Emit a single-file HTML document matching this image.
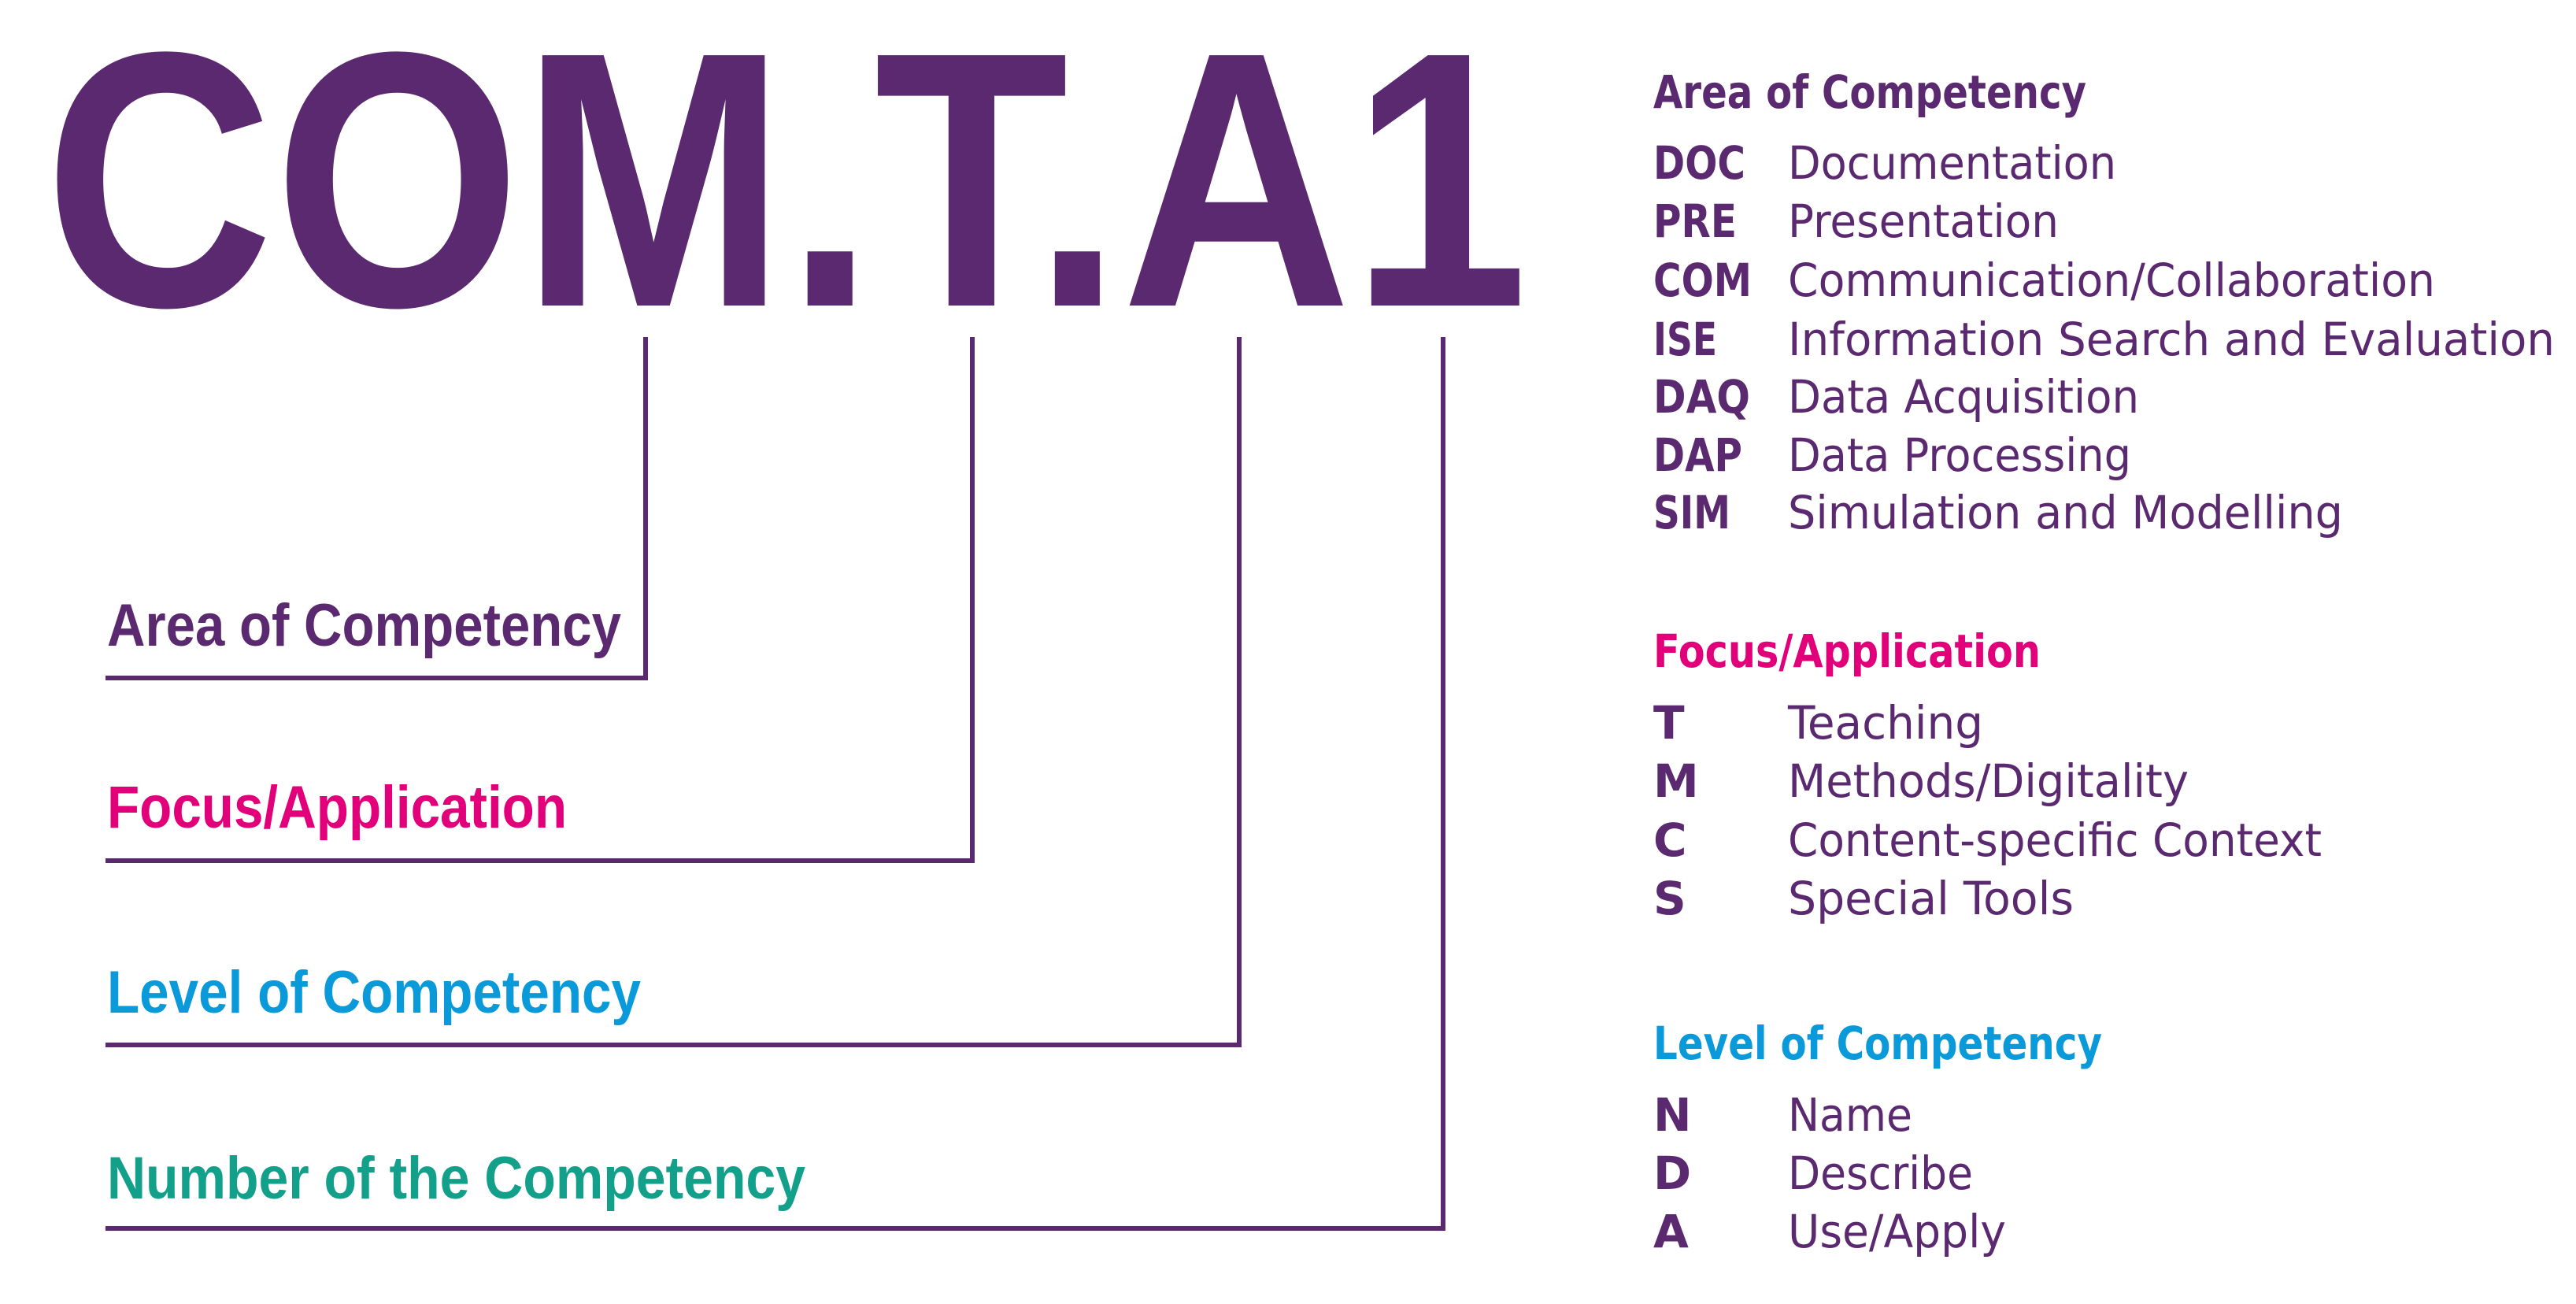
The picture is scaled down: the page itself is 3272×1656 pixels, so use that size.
<!DOCTYPE html>
<html><head><meta charset="utf-8"><style>
html,body{margin:0;padding:0;background:#fff;}
svg{display:block;}
.b{font-family:"Liberation Sans Narrow","Liberation Sans",sans-serif;font-weight:bold;}
.r{font-family:"DejaVu Sans","Liberation Sans",sans-serif;}
</style></head><body>
<svg width="3272" height="1656" viewBox="0 0 3272 1656" xmlns="http://www.w3.org/2000/svg">
<text x="56" y="388" class="b" font-size="462" fill="#5b2970" textLength="1885" lengthAdjust="spacingAndGlyphs">COM.T.A1</text>
<g stroke="#5b2970" stroke-width="6" fill="none">
<polyline points="134,861 820,861 820,428"/>
<polyline points="134,1093 1235,1093 1235,428"/>
<polyline points="134,1327 1574,1327 1574,428"/>
<polyline points="134,1560 1833,1560 1833,428"/>
</g>
<g class="b" font-size="76">
<text x="136" y="820" fill="#5b2970" textLength="653" lengthAdjust="spacingAndGlyphs">Area of Competency</text>
<text x="136" y="1051" fill="#e2007a" textLength="584" lengthAdjust="spacingAndGlyphs">Focus/Application</text>
<text x="136" y="1286" fill="#0a9ad9" textLength="678" lengthAdjust="spacingAndGlyphs">Level of Competency</text>
<text x="136" y="1522" fill="#13a08a" textLength="887" lengthAdjust="spacingAndGlyphs">Number of the Competency</text>
</g>
<g class="r" font-size="58">
<text x="2100" y="137" font-weight="bold" fill="#5b2970" textLength="550" lengthAdjust="spacingAndGlyphs">Area of Competency</text>
<g font-weight="bold" fill="#5b2970">
<text x="2100" y="227" textLength="117" lengthAdjust="spacingAndGlyphs">DOC</text>
<text x="2100" y="301" textLength="106" lengthAdjust="spacingAndGlyphs">PRE</text>
<text x="2100" y="376" textLength="125" lengthAdjust="spacingAndGlyphs">COM</text>
<text x="2100" y="451" textLength="81" lengthAdjust="spacingAndGlyphs">ISE</text>
<text x="2100" y="524" textLength="123" lengthAdjust="spacingAndGlyphs">DAQ</text>
<text x="2100" y="598" textLength="113" lengthAdjust="spacingAndGlyphs">DAP</text>
<text x="2100" y="671" textLength="98" lengthAdjust="spacingAndGlyphs">SIM</text>
</g>
<g fill="#5b2970">
<text x="2271" y="227" textLength="417" lengthAdjust="spacingAndGlyphs">Documentation</text>
<text x="2271" y="301" textLength="344" lengthAdjust="spacingAndGlyphs">Presentation</text>
<text x="2271" y="376" textLength="822" lengthAdjust="spacingAndGlyphs">Communication/Collaboration</text>
<text x="2271" y="451" textLength="974" lengthAdjust="spacingAndGlyphs">Information Search  and  Evaluation</text>
<text x="2271" y="524" textLength="446" lengthAdjust="spacingAndGlyphs">Data Acquisition</text>
<text x="2271" y="598" textLength="436" lengthAdjust="spacingAndGlyphs">Data Processing</text>
<text x="2271" y="671" textLength="705" lengthAdjust="spacingAndGlyphs">Simulation and Modelling</text>
</g>
<text x="2100" y="847" font-weight="bold" fill="#e2007a" textLength="492" lengthAdjust="spacingAndGlyphs">Focus/Application</text>
<g font-weight="bold" fill="#5b2970">
<text x="2100" y="938">T</text>
<text x="2100" y="1012">M</text>
<text x="2100" y="1087">C</text>
<text x="2100" y="1161">S</text>
</g>
<g fill="#5b2970">
<text x="2271" y="938" textLength="248" lengthAdjust="spacingAndGlyphs">Teaching</text>
<text x="2271" y="1012" textLength="509" lengthAdjust="spacingAndGlyphs">Methods/Digitality</text>
<text x="2271" y="1087" textLength="678" lengthAdjust="spacingAndGlyphs">Content-specific Context</text>
<text x="2271" y="1161" textLength="363" lengthAdjust="spacingAndGlyphs">Special Tools</text>
</g>
<text x="2100" y="1345" font-weight="bold" fill="#0a9ad9" textLength="570" lengthAdjust="spacingAndGlyphs">Level of Competency</text>
<g font-weight="bold" fill="#5b2970">
<text x="2100" y="1436">N</text>
<text x="2100" y="1510">D</text>
<text x="2100" y="1584">A</text>
</g>
<g fill="#5b2970">
<text x="2271" y="1436" textLength="158" lengthAdjust="spacingAndGlyphs">Name</text>
<text x="2271" y="1510" textLength="235" lengthAdjust="spacingAndGlyphs">Describe</text>
<text x="2271" y="1584" textLength="277" lengthAdjust="spacingAndGlyphs">Use/Apply</text>
</g>
</g>
</svg>
</body></html>
